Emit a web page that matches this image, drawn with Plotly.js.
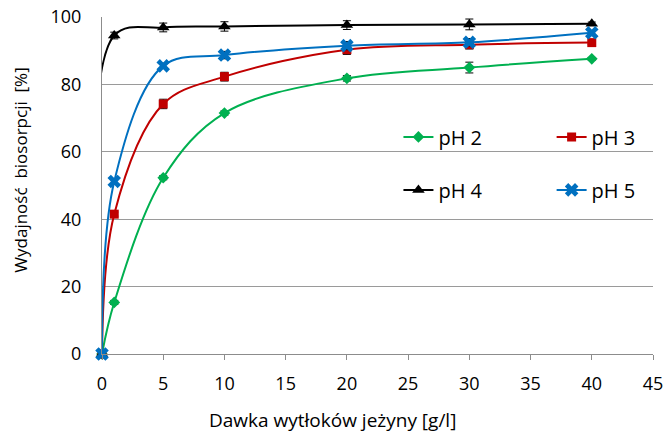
<!DOCTYPE html>
<html>
<head>
<meta charset="utf-8">
<script src="https://cdn.plot.ly/plotly-3.0.1.min.js"></script>
<style>
  html, body { margin: 0; padding: 0; background: #fff; }
  #chart { width: 663px; height: 434px; }
</style>
</head>
<body>
<div id="chart"></div>
<script>
// Dose of blackberry pomace [g/l]
const dose = [0, 1, 5, 10, 20, 30, 40];

// Biosorption efficiency [%] for each pH
const ph2 = [0, 15.3, 52.3, 71.5, 81.8, 85.0, 87.6];
const ph3 = [0, 41.5, 74.2, 82.3, 90.3, 91.8, 92.4];
const ph4 = [0, 94.5, 96.9, 97.2, 97.6, 97.8, 98.0];
const ph5 = [0, 51.2, 85.5, 88.7, 91.5, 92.5, 95.3];

// Standard deviations
const ph2Err = [0, 0.6, 0.6, 0.6, 0.8, 1.6, 0.4];
const ph3Err = [0, 0.6, 1.4, 1.3, 1.4, 1.3, 0.5];
const ph4Err = [0, 1.0, 1.3, 1.4, 1.3, 1.6, 0.5];
const ph5Err = [0, 0.8, 0.8, 1.1, 1.2, 1.1, 0.6];

const seriesNames = ['pH 2', 'pH 3', 'pH 4', 'pH 5'];

function series(name, y, err, color, symbol, size, legendId) {
  return {
    x: dose, y: y, name: name, type: 'scatter', mode: 'lines+markers',
    legend: legendId, cliponaxis: false,
    line: { color: color, width: 2, shape: 'spline', smoothing: 1 },
    marker: { color: color, symbol: symbol, size: size, line: { width: 0 } },
    error_y: { type: 'data', array: err, visible: true, color: '#000', thickness: 1, width: 4 }
  };
}

const traces = [
  series(seriesNames[0], ph2, ph2Err, '#00B050', 'diamond', 9, 'legend'),
  series(seriesNames[1], ph3, ph3Err, '#C00000', 'square', 9, 'legend2'),
  series(seriesNames[2], ph4, ph4Err, '#000000', 'triangle-up', 11, 'legend3'),
  series(seriesNames[3], ph5, ph5Err, '#0070C0', 'x', 12, 'legend4')
];

const font = '"Open Sans", "Noto Sans", sans-serif';

// one legend box per entry, laid out as a 2 x 2 grid inside the plot
function legendBox(x, y) {
  return { x: x, y: y, xanchor: 'left', yanchor: 'middle', orientation: 'v',
           bgcolor: 'rgba(0,0,0,0)', borderwidth: 0,
           font: { size: 20, family: font, color: '#000' } };
}

const layout = {
  width: 663, height: 434,
  margin: { l: 102, r: 10, t: 17, b: 80 },
  paper_bgcolor: '#fff', plot_bgcolor: '#fff',
  font: { family: font, size: 16, color: '#000' },
  showlegend: true,
  legend: legendBox(0.538, 0.644),
  legend2: legendBox(0.816, 0.644),
  legend3: legendBox(0.538, 0.487),
  legend4: legendBox(0.816, 0.487),
  xaxis: {
    range: [0, 45], dtick: 5, tick0: 0, showgrid: false, zeroline: false,
    showline: true, linecolor: '#8c8c8c', linewidth: 1,
    ticks: 'outside', ticklen: 5, tickcolor: '#8c8c8c',
    ticklabelstandoff: 8, ticklabeloverflow: 'allow',
    tickfont: { size: 18 }
  },
  yaxis: {
    range: [0, 100], dtick: 20, showgrid: true, gridcolor: '#9a9a9a', gridwidth: 1,
    zeroline: false, showline: true, linecolor: '#8c8c8c', linewidth: 1,
    ticks: '', ticklabelstandoff: 16, tickfont: { size: 18 }
  },
  annotations: [
    { text: 'Dawka wytłoków jeżyny [g/l]', xref: 'paper', yref: 'paper',
      x: 0.419, y: -0.196, xanchor: 'center', yanchor: 'middle',
      showarrow: false, font: { size: 19 } },
    { text: 'Wydajność\u00a0\u00a0biosorpcji\u00a0\u00a0[%]', xref: 'paper', yref: 'paper',
      x: -0.147, y: 0.544, xanchor: 'center', yanchor: 'middle', textangle: -90,
      showarrow: false, font: { size: 17 } }
  ]
};

Plotly.newPlot('chart', traces, layout, { displayModeBar: false, staticPlot: true });
</script>
</body>
</html>
